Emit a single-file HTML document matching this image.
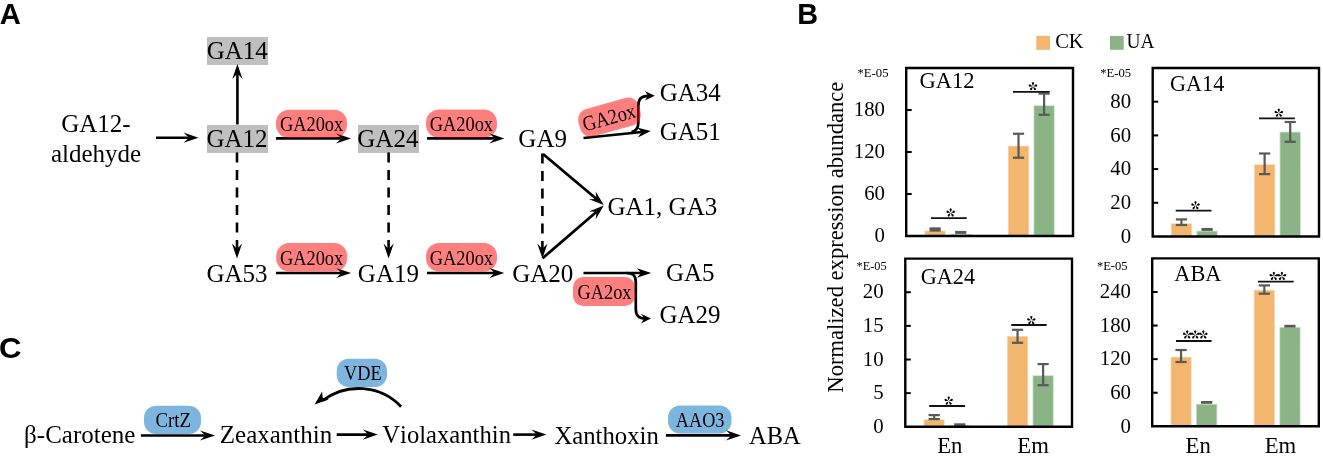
<!DOCTYPE html>
<html><head><meta charset="utf-8"><style>
html,body{margin:0;padding:0;background:#fff;width:1323px;height:460px;overflow:hidden}
svg{display:block;will-change:transform}
text{font-kerning:none}
</style></head><body>
<svg width="1323" height="460" viewBox="0 0 1323 460">
<rect width="1323" height="460" fill="#fff"/>
<text transform="translate(-0.23,23.90) scale(0.9738,1)" style="font-family:'Liberation Sans', sans-serif;font-weight:bold;font-size:30px" fill="#000" >A</text>
<rect x="207" y="37" width="61" height="28" rx="0" fill="#bfbfbf" />
<rect x="207" y="125" width="61" height="28" rx="0" fill="#bfbfbf" />
<rect x="358" y="125" width="61" height="28" rx="0" fill="#bfbfbf" />
<line x1="156" y1="137.7" x2="189.0" y2="137.7" stroke="#000" stroke-width="2.6" stroke-linecap="butt"/>
<polygon points="198.50,137.70 183.50,132.60 189.00,137.70 183.50,142.80" fill="#000"/>
<line x1="237.4" y1="124.5" x2="237.4" y2="73.5" stroke="#000" stroke-width="2.6" stroke-linecap="butt"/>
<polygon points="237.40,64.00 232.30,79.00 237.40,73.50 242.50,79.00" fill="#000"/>
<line x1="276" y1="138.4" x2="341.4" y2="138.4" stroke="#000" stroke-width="2.6" stroke-linecap="butt"/>
<polygon points="350.90,138.40 335.90,133.30 341.40,138.40 335.90,143.50" fill="#000"/>
<line x1="427" y1="138.4" x2="494.8" y2="138.4" stroke="#000" stroke-width="2.6" stroke-linecap="butt"/>
<polygon points="504.30,138.40 489.30,133.30 494.80,138.40 489.30,143.50" fill="#000"/>
<line x1="237" y1="152.5" x2="237" y2="250" stroke="#000" stroke-width="2.6" stroke-linecap="butt" stroke-dasharray="10 7.5"/>
<polygon points="237.00,258.60 242.10,243.60 237.00,249.10 231.90,243.60" fill="#000"/>
<line x1="388.6" y1="152.5" x2="388.6" y2="250" stroke="#000" stroke-width="2.6" stroke-linecap="butt" stroke-dasharray="10 7.5"/>
<polygon points="388.60,258.60 393.70,243.60 388.60,249.10 383.50,243.60" fill="#000"/>
<line x1="542.4" y1="153.5" x2="542.4" y2="250" stroke="#000" stroke-width="2.6" stroke-linecap="butt" stroke-dasharray="10 7.5"/>
<polygon points="542.40,258.50 547.50,243.50 542.40,249.00 537.30,243.50" fill="#000"/>
<line x1="543" y1="154" x2="596.527453514357" y2="198.98771175302053" stroke="#000" stroke-width="2.8" stroke-linecap="butt"/>
<polygon points="603.80,205.10 595.60,191.54 596.53,198.99 589.04,199.35" fill="#000"/>
<line x1="542.6" y1="258.2" x2="596.595378621429" y2="211.79220726328163" stroke="#000" stroke-width="2.8" stroke-linecap="butt"/>
<polygon points="603.80,205.60 589.10,211.51 596.60,211.79 595.75,219.24" fill="#000"/>
<line x1="276" y1="273" x2="341.6" y2="273.0" stroke="#000" stroke-width="2.6" stroke-linecap="butt"/>
<polygon points="351.10,273.00 336.10,267.90 341.60,273.00 336.10,278.10" fill="#000"/>
<line x1="427" y1="273" x2="494.8" y2="273.0" stroke="#000" stroke-width="2.6" stroke-linecap="butt"/>
<polygon points="504.30,273.00 489.30,267.90 494.80,273.00 489.30,278.10" fill="#000"/>
<line x1="583.5" y1="138.0" x2="641.8469324375998" y2="132.01792223150906" stroke="#000" stroke-width="2.6" stroke-linecap="butt"/>
<polygon points="650.80,131.10 636.86,127.50 641.85,132.02 637.88,137.45" fill="#000"/>
<path d="M631.5,132 C635.5,131 638.3,129 638.3,123 L638.3,106 C638.3,99.5 640.5,96 649,95.8" fill="none" stroke="#000" stroke-width="2.7"/>
<polygon points="654.80,95.80 644.80,91.10 648.30,95.80 644.80,100.50" fill="#000"/>
<line x1="583.5" y1="273" x2="641.2" y2="273.0" stroke="#000" stroke-width="2.6" stroke-linecap="butt"/>
<polygon points="651.20,273.00 636.90,268.20 641.20,273.00 636.90,277.80" fill="#000"/>
<path d="M626.5,273 C633,273 635.8,275.5 635.8,282 L635.8,309 C635.8,315.5 638.5,318.6 645.5,318.6" fill="none" stroke="#000" stroke-width="2.7"/>
<polygon points="650.90,318.60 640.90,313.70 644.40,318.60 640.90,323.50" fill="#000"/>
<rect x="276" y="109.8" width="71" height="28.2" rx="13" fill="rgba(255,0,0,0.5)" />
<rect x="426" y="109.5" width="71" height="28.2" rx="13" fill="rgba(255,0,0,0.5)" />
<rect x="276.2" y="243" width="71" height="28.6" rx="13" fill="rgba(255,0,0,0.5)" />
<rect x="426" y="243" width="71" height="28.6" rx="13" fill="rgba(255,0,0,0.5)" />
<rect x="573" y="277" width="62" height="29" rx="10" fill="rgba(255,0,0,0.5)" />
<g transform="rotate(-15.5 608.5 116.5)">
<rect x="578" y="103.2" width="62.6" height="28.4" rx="11" fill="rgba(255,0,0,0.5)" />
<text transform="translate(581.54,124.60) scale(0.8696,1)" style="font-family:'Liberation Serif', serif;font-size:21.2px" fill="#000" >GA2ox</text>
</g>
<text transform="translate(206.67,58.70)" style="font-family:'Liberation Serif', serif;font-size:25px" fill="#000" >GA14</text>
<text transform="translate(206.47,146.90)" style="font-family:'Liberation Serif', serif;font-size:25px" fill="#000" >GA12</text>
<text transform="translate(357.27,147.00)" style="font-family:'Liberation Serif', serif;font-size:25px" fill="#000" >GA24</text>
<text transform="translate(518.37,146.70)" style="font-family:'Liberation Serif', serif;font-size:25px" fill="#000" >GA9</text>
<text transform="translate(659.67,101.30)" style="font-family:'Liberation Serif', serif;font-size:25px" fill="#000" >GA34</text>
<text transform="translate(659.67,139.90)" style="font-family:'Liberation Serif', serif;font-size:25px" fill="#000" >GA51</text>
<text transform="translate(607.47,214.80)" style="font-family:'Liberation Serif', serif;font-size:25px" fill="#000" >GA1, GA3</text>
<text transform="translate(206.47,281.60)" style="font-family:'Liberation Serif', serif;font-size:25px" fill="#000" >GA53</text>
<text transform="translate(357.87,281.50)" style="font-family:'Liberation Serif', serif;font-size:25px" fill="#000" >GA19</text>
<text transform="translate(512.17,281.60)" style="font-family:'Liberation Serif', serif;font-size:25px" fill="#000" >GA20</text>
<text transform="translate(665.97,281.40)" style="font-family:'Liberation Serif', serif;font-size:25px" fill="#000" >GA5</text>
<text transform="translate(659.47,323.20)" style="font-family:'Liberation Serif', serif;font-size:25px" fill="#000" >GA29</text>
<text transform="translate(61.17,132.10)" style="font-family:'Liberation Serif', serif;font-size:25px" fill="#000" >GA12-</text>
<text transform="translate(50.92,161.60)" style="font-family:'Liberation Serif', serif;font-size:25px" fill="#000" >aldehyde</text>
<text transform="translate(279.95,131.20) scale(0.9186,1)" style="font-family:'Liberation Serif', serif;font-size:20px" fill="#000" >GA20ox</text>
<text transform="translate(429.64,130.80) scale(0.9215,1)" style="font-family:'Liberation Serif', serif;font-size:20px" fill="#000" >GA20ox</text>
<text transform="translate(279.95,265.00) scale(0.9186,1)" style="font-family:'Liberation Serif', serif;font-size:20px" fill="#000" >GA20ox</text>
<text transform="translate(429.64,265.00) scale(0.9215,1)" style="font-family:'Liberation Serif', serif;font-size:20px" fill="#000" >GA20ox</text>
<text transform="translate(577.55,298.50) scale(0.9166,1)" style="font-family:'Liberation Serif', serif;font-size:20px" fill="#000" >GA2ox</text>
<text transform="translate(-1.08,358.00) scale(1.0401,1)" style="font-family:'Liberation Sans', sans-serif;font-weight:bold;font-size:30px" fill="#000" >C</text>
<rect x="144" y="405.7" width="57" height="28.2" rx="12" fill="#7eb5df" />
<rect x="336.7" y="358.7" width="50.3" height="28.3" rx="12" fill="#7eb5df" />
<rect x="668" y="405.4" width="63.5" height="28.1" rx="12" fill="#7eb5df" />
<line x1="140.9" y1="435.5" x2="205.5" y2="435.5" stroke="#000" stroke-width="2.6" stroke-linecap="butt"/>
<polygon points="215.00,435.50 200.00,430.40 205.50,435.50 200.00,440.60" fill="#000"/>
<line x1="336.7" y1="434.6" x2="368.3" y2="434.6" stroke="#000" stroke-width="2.6" stroke-linecap="butt"/>
<polygon points="377.80,434.60 362.80,429.50 368.30,434.60 362.80,439.70" fill="#000"/>
<line x1="513.2" y1="434.6" x2="536.9" y2="434.6" stroke="#000" stroke-width="2.6" stroke-linecap="butt"/>
<polygon points="546.40,434.60 531.40,429.50 536.90,434.60 531.40,439.70" fill="#000"/>
<line x1="665.9" y1="435.4" x2="731.5" y2="435.4" stroke="#000" stroke-width="2.6" stroke-linecap="butt"/>
<polygon points="741.00,435.40 726.00,430.30 731.50,435.40 726.00,440.50" fill="#000"/>
<path d="M401.1,406.7 A59,59 0 0,0 323,400.4" fill="none" stroke="#000" stroke-width="2.8"/>
<polygon points="314.60,404.60 328.82,399.46 322.64,397.85 322.14,391.49" fill="#000"/>
<text transform="translate(155.43,427.00) scale(0.9426,1)" style="font-family:'Liberation Serif', serif;font-size:20px" fill="#000" >CrtZ</text>
<text transform="translate(343.99,379.70) scale(0.9177,1)" style="font-family:'Liberation Serif', serif;font-size:20px" fill="#000" >VDE</text>
<text transform="translate(675.82,427.00) scale(0.9111,1)" style="font-family:'Liberation Serif', serif;font-size:20px" fill="#000" >AAO3</text>
<text transform="translate(24.09,443.30)" style="font-family:'Liberation Serif', serif;font-size:25px" fill="#000" >β-Carotene</text>
<text transform="translate(219.80,443.20)" style="font-family:'Liberation Serif', serif;font-size:25px" fill="#000" >Zeaxanthin</text>
<text transform="translate(382.22,443.30) scale(0.9864,1)" style="font-family:'Liberation Serif', serif;font-size:25px" fill="#000" >Violaxanthin</text>
<text transform="translate(554.46,443.50) scale(0.9884,1)" style="font-family:'Liberation Serif', serif;font-size:25px" fill="#000" >Xanthoxin</text>
<text transform="translate(749.06,443.50) scale(0.9798,1)" style="font-family:'Liberation Serif', serif;font-size:25px" fill="#000" >ABA</text>
<text transform="translate(797.17,23.80) scale(0.9620,1)" style="font-family:'Liberation Sans', sans-serif;font-weight:bold;font-size:30px" fill="#000" >B</text>
<rect x="1036.3" y="35.9" width="13.7" height="13.9" rx="0" fill="#f2b66e" />
<rect x="1110" y="35.9" width="13.7" height="13.9" rx="0" fill="#8ab486" />
<text transform="translate(1055.16,48.00) scale(1.0027,1)" style="font-family:'Liberation Serif', serif;font-size:20.5px" fill="#000" >CK</text>
<text transform="translate(1126.59,48.00) scale(0.9474,1)" style="font-family:'Liberation Serif', serif;font-size:20.5px" fill="#000" >UA</text>
<g transform="translate(843.3,392) rotate(-90)">
<text transform="translate(-0.65,0.00) scale(0.9825,1)" style="font-family:'Liberation Serif', serif;font-size:23px" fill="#000" >Normalized expression abundance</text>
</g>
<rect x="925.35" y="231.3" width="19.5" height="4.7" rx="0" fill="#f2b66e" stroke="#f2b66e" stroke-opacity="0.5" stroke-width="1.6"/>
<rect x="950.95" y="234.8" width="19.5" height="1.2" rx="0" fill="#8ab486" stroke="#8ab486" stroke-opacity="0.5" stroke-width="1.6"/>
<rect x="1008.75" y="146.5" width="19.5" height="89.5" rx="0" fill="#f2b66e" stroke="#f2b66e" stroke-opacity="0.5" stroke-width="1.6"/>
<rect x="1034.35" y="106.10000000000001" width="19.5" height="129.9" rx="0" fill="#8ab486" stroke="#8ab486" stroke-opacity="0.5" stroke-width="1.6"/>
<rect x="929.5" y="227.35" width="11.2" height="4.3" rx="0" fill="#595959" />
<rect x="955.1" y="230.9" width="11.2" height="3.0" rx="0" fill="#595959" />
<line x1="1018.5" y1="133.75" x2="1018.5" y2="157.75" stroke="#595959" stroke-width="2.2" stroke-linecap="butt"/>
<line x1="1012.9" y1="133.75" x2="1024.1" y2="133.75" stroke="#595959" stroke-width="2.2" stroke-linecap="butt"/>
<line x1="1012.9" y1="157.75" x2="1024.1" y2="157.75" stroke="#595959" stroke-width="2.2" stroke-linecap="butt"/>
<line x1="1044.1" y1="93.60000000000001" x2="1044.1" y2="114.8" stroke="#595959" stroke-width="2.2" stroke-linecap="butt"/>
<line x1="1038.5" y1="93.60000000000001" x2="1049.6999999999998" y2="93.60000000000001" stroke="#595959" stroke-width="2.2" stroke-linecap="butt"/>
<line x1="1038.5" y1="114.8" x2="1049.6999999999998" y2="114.8" stroke="#595959" stroke-width="2.2" stroke-linecap="butt"/>
<line x1="931" y1="218.2" x2="966.7" y2="218.2" stroke="#111" stroke-width="1.8" stroke-linecap="butt"/>
<g transform="translate(950.70,212.80) scale(1.08)" fill="#000"><path transform="rotate(0)" d="M0,-0.3 L-0.8,-2.35 A1.04,1.04 0 1,1 0.8,-2.35 Z"/><path transform="rotate(72)" d="M0,-0.3 L-0.8,-2.35 A1.04,1.04 0 1,1 0.8,-2.35 Z"/><path transform="rotate(144)" d="M0,-0.3 L-0.8,-2.35 A1.04,1.04 0 1,1 0.8,-2.35 Z"/><path transform="rotate(216)" d="M0,-0.3 L-0.8,-2.35 A1.04,1.04 0 1,1 0.8,-2.35 Z"/><path transform="rotate(288)" d="M0,-0.3 L-0.8,-2.35 A1.04,1.04 0 1,1 0.8,-2.35 Z"/></g>
<line x1="1013" y1="91.8" x2="1049.6" y2="91.8" stroke="#111" stroke-width="1.8" stroke-linecap="butt"/>
<g transform="translate(1033.00,86.50) scale(1.08)" fill="#000"><path transform="rotate(0)" d="M0,-0.3 L-0.8,-2.35 A1.04,1.04 0 1,1 0.8,-2.35 Z"/><path transform="rotate(72)" d="M0,-0.3 L-0.8,-2.35 A1.04,1.04 0 1,1 0.8,-2.35 Z"/><path transform="rotate(144)" d="M0,-0.3 L-0.8,-2.35 A1.04,1.04 0 1,1 0.8,-2.35 Z"/><path transform="rotate(216)" d="M0,-0.3 L-0.8,-2.35 A1.04,1.04 0 1,1 0.8,-2.35 Z"/><path transform="rotate(288)" d="M0,-0.3 L-0.8,-2.35 A1.04,1.04 0 1,1 0.8,-2.35 Z"/></g>
<path d="M906.2,236 L906.2,68 L1073,68 L1073,236 Z" fill="none" stroke="#000" stroke-width="2.4"/>
<text transform="translate(874.59,242.20)" style="font-family:'Liberation Serif', serif;font-size:20.8px" fill="#000" >0</text>
<line x1="906.2" y1="194.0" x2="911.7" y2="194.0" stroke="#000" stroke-width="2.0" stroke-linecap="butt"/>
<text transform="translate(864.19,200.20)" style="font-family:'Liberation Serif', serif;font-size:20.8px" fill="#000" >60</text>
<line x1="906.2" y1="152.0" x2="911.7" y2="152.0" stroke="#000" stroke-width="2.0" stroke-linecap="butt"/>
<text transform="translate(853.79,158.20)" style="font-family:'Liberation Serif', serif;font-size:20.8px" fill="#000" >120</text>
<line x1="906.2" y1="110.0" x2="911.7" y2="110.0" stroke="#000" stroke-width="2.0" stroke-linecap="butt"/>
<text transform="translate(853.79,116.20)" style="font-family:'Liberation Serif', serif;font-size:20.8px" fill="#000" >180</text>
<text transform="translate(857.48,77.00) scale(0.9795,1)" style="font-family:'Liberation Serif', serif;font-size:13px" fill="#000" >*E-05</text>
<text transform="translate(919.38,87.80) scale(0.9795,1)" style="font-family:'Liberation Serif', serif;font-size:23px" fill="#000" >GA12</text>
<rect x="1171.73" y="224.0" width="19.5" height="12.5" rx="0" fill="#f2b66e" stroke="#f2b66e" stroke-opacity="0.5" stroke-width="1.6"/>
<rect x="1197.33" y="231.6" width="19.5" height="4.9" rx="0" fill="#8ab486" stroke="#8ab486" stroke-opacity="0.5" stroke-width="1.6"/>
<rect x="1254.88" y="165.0" width="19.5" height="71.5" rx="0" fill="#f2b66e" stroke="#f2b66e" stroke-opacity="0.5" stroke-width="1.6"/>
<rect x="1280.47" y="132.6" width="19.5" height="103.9" rx="0" fill="#8ab486" stroke="#8ab486" stroke-opacity="0.5" stroke-width="1.6"/>
<line x1="1181.4750000000001" y1="219.39999999999998" x2="1181.4750000000001" y2="225.0" stroke="#595959" stroke-width="2.2" stroke-linecap="butt"/>
<line x1="1175.8750000000002" y1="219.39999999999998" x2="1187.075" y2="219.39999999999998" stroke="#595959" stroke-width="2.2" stroke-linecap="butt"/>
<line x1="1175.8750000000002" y1="225.0" x2="1187.075" y2="225.0" stroke="#595959" stroke-width="2.2" stroke-linecap="butt"/>
<rect x="1201.48" y="227.95" width="11.2" height="2.9" rx="0" fill="#595959" />
<line x1="1264.625" y1="153.5" x2="1264.625" y2="174.10000000000002" stroke="#595959" stroke-width="2.2" stroke-linecap="butt"/>
<line x1="1259.025" y1="153.5" x2="1270.225" y2="153.5" stroke="#595959" stroke-width="2.2" stroke-linecap="butt"/>
<line x1="1259.025" y1="174.10000000000002" x2="1270.225" y2="174.10000000000002" stroke="#595959" stroke-width="2.2" stroke-linecap="butt"/>
<line x1="1290.225" y1="122.0" x2="1290.225" y2="141.8" stroke="#595959" stroke-width="2.2" stroke-linecap="butt"/>
<line x1="1284.625" y1="122.0" x2="1295.8249999999998" y2="122.0" stroke="#595959" stroke-width="2.2" stroke-linecap="butt"/>
<line x1="1284.625" y1="141.8" x2="1295.8249999999998" y2="141.8" stroke="#595959" stroke-width="2.2" stroke-linecap="butt"/>
<line x1="1175.7" y1="210.7" x2="1211.5" y2="210.7" stroke="#111" stroke-width="1.8" stroke-linecap="butt"/>
<g transform="translate(1195.50,205.50) scale(1.08)" fill="#000"><path transform="rotate(0)" d="M0,-0.3 L-0.8,-2.35 A1.04,1.04 0 1,1 0.8,-2.35 Z"/><path transform="rotate(72)" d="M0,-0.3 L-0.8,-2.35 A1.04,1.04 0 1,1 0.8,-2.35 Z"/><path transform="rotate(144)" d="M0,-0.3 L-0.8,-2.35 A1.04,1.04 0 1,1 0.8,-2.35 Z"/><path transform="rotate(216)" d="M0,-0.3 L-0.8,-2.35 A1.04,1.04 0 1,1 0.8,-2.35 Z"/><path transform="rotate(288)" d="M0,-0.3 L-0.8,-2.35 A1.04,1.04 0 1,1 0.8,-2.35 Z"/></g>
<line x1="1259" y1="118.4" x2="1294.8" y2="118.4" stroke="#111" stroke-width="1.8" stroke-linecap="butt"/>
<g transform="translate(1278.80,113.00) scale(1.08)" fill="#000"><path transform="rotate(0)" d="M0,-0.3 L-0.8,-2.35 A1.04,1.04 0 1,1 0.8,-2.35 Z"/><path transform="rotate(72)" d="M0,-0.3 L-0.8,-2.35 A1.04,1.04 0 1,1 0.8,-2.35 Z"/><path transform="rotate(144)" d="M0,-0.3 L-0.8,-2.35 A1.04,1.04 0 1,1 0.8,-2.35 Z"/><path transform="rotate(216)" d="M0,-0.3 L-0.8,-2.35 A1.04,1.04 0 1,1 0.8,-2.35 Z"/><path transform="rotate(288)" d="M0,-0.3 L-0.8,-2.35 A1.04,1.04 0 1,1 0.8,-2.35 Z"/></g>
<path d="M1152.7,236.5 L1152.7,68 L1319,68 L1319,236.5 Z" fill="none" stroke="#000" stroke-width="2.4"/>
<text transform="translate(1120.69,242.70)" style="font-family:'Liberation Serif', serif;font-size:20.8px" fill="#000" >0</text>
<line x1="1152.7" y1="202.8" x2="1158.2" y2="202.8" stroke="#000" stroke-width="2.0" stroke-linecap="butt"/>
<text transform="translate(1110.29,209.00)" style="font-family:'Liberation Serif', serif;font-size:20.8px" fill="#000" >20</text>
<line x1="1152.7" y1="169.1" x2="1158.2" y2="169.1" stroke="#000" stroke-width="2.0" stroke-linecap="butt"/>
<text transform="translate(1110.29,175.30)" style="font-family:'Liberation Serif', serif;font-size:20.8px" fill="#000" >40</text>
<line x1="1152.7" y1="135.4" x2="1158.2" y2="135.4" stroke="#000" stroke-width="2.0" stroke-linecap="butt"/>
<text transform="translate(1110.29,141.60)" style="font-family:'Liberation Serif', serif;font-size:20.8px" fill="#000" >60</text>
<line x1="1152.7" y1="101.69999999999999" x2="1158.2" y2="101.69999999999999" stroke="#000" stroke-width="2.0" stroke-linecap="butt"/>
<text transform="translate(1110.29,107.90)" style="font-family:'Liberation Serif', serif;font-size:20.8px" fill="#000" >80</text>
<text transform="translate(1100.28,77.00) scale(0.9730,1)" style="font-family:'Liberation Serif', serif;font-size:13px" fill="#000" >*E-05</text>
<text transform="translate(1170.09,90.90) scale(0.9633,1)" style="font-family:'Liberation Serif', serif;font-size:23px" fill="#000" >GA14</text>
<rect x="924.42" y="420.09999999999997" width="19.5" height="6.7" rx="0" fill="#f2b66e" stroke="#f2b66e" stroke-opacity="0.5" stroke-width="1.6"/>
<rect x="950.02" y="425.9" width="19.5" height="0.9" rx="0" fill="#8ab486" stroke="#8ab486" stroke-opacity="0.5" stroke-width="1.6"/>
<rect x="1007.78" y="336.9" width="19.5" height="89.9" rx="0" fill="#f2b66e" stroke="#f2b66e" stroke-opacity="0.5" stroke-width="1.6"/>
<rect x="1033.38" y="376.09999999999997" width="19.5" height="50.7" rx="0" fill="#8ab486" stroke="#8ab486" stroke-opacity="0.5" stroke-width="1.6"/>
<line x1="934.175" y1="415.1" x2="934.175" y2="419.1" stroke="#595959" stroke-width="2.2" stroke-linecap="butt"/>
<line x1="928.5749999999999" y1="415.1" x2="939.775" y2="415.1" stroke="#595959" stroke-width="2.2" stroke-linecap="butt"/>
<line x1="928.5749999999999" y1="419.1" x2="939.775" y2="419.1" stroke="#595959" stroke-width="2.2" stroke-linecap="butt"/>
<rect x="954.17" y="423.3" width="11.2" height="3.2" rx="0" fill="#595959" />
<line x1="1017.5250000000001" y1="329.8" x2="1017.5250000000001" y2="342.8" stroke="#595959" stroke-width="2.2" stroke-linecap="butt"/>
<line x1="1011.9250000000001" y1="329.8" x2="1023.1250000000001" y2="329.8" stroke="#595959" stroke-width="2.2" stroke-linecap="butt"/>
<line x1="1011.9250000000001" y1="342.8" x2="1023.1250000000001" y2="342.8" stroke="#595959" stroke-width="2.2" stroke-linecap="butt"/>
<line x1="1043.125" y1="364.09999999999997" x2="1043.125" y2="385.2" stroke="#595959" stroke-width="2.2" stroke-linecap="butt"/>
<line x1="1037.525" y1="364.09999999999997" x2="1048.725" y2="364.09999999999997" stroke="#595959" stroke-width="2.2" stroke-linecap="butt"/>
<line x1="1037.525" y1="385.2" x2="1048.725" y2="385.2" stroke="#595959" stroke-width="2.2" stroke-linecap="butt"/>
<line x1="929.2" y1="406" x2="965.1" y2="406" stroke="#111" stroke-width="1.8" stroke-linecap="butt"/>
<g transform="translate(948.70,400.90) scale(1.08)" fill="#000"><path transform="rotate(0)" d="M0,-0.3 L-0.8,-2.35 A1.04,1.04 0 1,1 0.8,-2.35 Z"/><path transform="rotate(72)" d="M0,-0.3 L-0.8,-2.35 A1.04,1.04 0 1,1 0.8,-2.35 Z"/><path transform="rotate(144)" d="M0,-0.3 L-0.8,-2.35 A1.04,1.04 0 1,1 0.8,-2.35 Z"/><path transform="rotate(216)" d="M0,-0.3 L-0.8,-2.35 A1.04,1.04 0 1,1 0.8,-2.35 Z"/><path transform="rotate(288)" d="M0,-0.3 L-0.8,-2.35 A1.04,1.04 0 1,1 0.8,-2.35 Z"/></g>
<line x1="1011.3" y1="325" x2="1046.7" y2="325" stroke="#111" stroke-width="1.8" stroke-linecap="butt"/>
<g transform="translate(1031.30,320.40) scale(1.08)" fill="#000"><path transform="rotate(0)" d="M0,-0.3 L-0.8,-2.35 A1.04,1.04 0 1,1 0.8,-2.35 Z"/><path transform="rotate(72)" d="M0,-0.3 L-0.8,-2.35 A1.04,1.04 0 1,1 0.8,-2.35 Z"/><path transform="rotate(144)" d="M0,-0.3 L-0.8,-2.35 A1.04,1.04 0 1,1 0.8,-2.35 Z"/><path transform="rotate(216)" d="M0,-0.3 L-0.8,-2.35 A1.04,1.04 0 1,1 0.8,-2.35 Z"/><path transform="rotate(288)" d="M0,-0.3 L-0.8,-2.35 A1.04,1.04 0 1,1 0.8,-2.35 Z"/></g>
<path d="M905.3,426.8 L905.3,258.6 L1072,258.6 L1072,426.8 Z" fill="none" stroke="#000" stroke-width="2.4"/>
<text transform="translate(873.19,433.00)" style="font-family:'Liberation Serif', serif;font-size:20.8px" fill="#000" >0</text>
<line x1="905.3" y1="393.16" x2="910.8" y2="393.16" stroke="#000" stroke-width="2.0" stroke-linecap="butt"/>
<text transform="translate(873.21,399.36)" style="font-family:'Liberation Serif', serif;font-size:20.8px" fill="#000" >5</text>
<line x1="905.3" y1="359.52" x2="910.8" y2="359.52" stroke="#000" stroke-width="2.0" stroke-linecap="butt"/>
<text transform="translate(862.79,365.72)" style="font-family:'Liberation Serif', serif;font-size:20.8px" fill="#000" >10</text>
<line x1="905.3" y1="325.88" x2="910.8" y2="325.88" stroke="#000" stroke-width="2.0" stroke-linecap="butt"/>
<text transform="translate(862.81,332.08)" style="font-family:'Liberation Serif', serif;font-size:20.8px" fill="#000" >15</text>
<line x1="905.3" y1="292.24" x2="910.8" y2="292.24" stroke="#000" stroke-width="2.0" stroke-linecap="butt"/>
<text transform="translate(862.79,298.44)" style="font-family:'Liberation Serif', serif;font-size:20.8px" fill="#000" >20</text>
<text transform="translate(856.50,269.90) scale(0.9501,1)" style="font-family:'Liberation Serif', serif;font-size:13px" fill="#000" >*E-05</text>
<text transform="translate(920.69,284.10) scale(0.9669,1)" style="font-family:'Liberation Serif', serif;font-size:23px" fill="#000" >GA24</text>
<text transform="translate(937.25,452.80)" style="font-family:'Liberation Serif', serif;font-size:22.7px" fill="#000" >En</text>
<text transform="translate(1017.35,452.80)" style="font-family:'Liberation Serif', serif;font-size:22.7px" fill="#000" >Em</text>
<rect x="1171.3" y="357.59999999999997" width="19.5" height="68.7" rx="0" fill="#f2b66e" stroke="#f2b66e" stroke-opacity="0.5" stroke-width="1.6"/>
<rect x="1196.9" y="404.79999999999995" width="19.5" height="21.5" rx="0" fill="#8ab486" stroke="#8ab486" stroke-opacity="0.5" stroke-width="1.6"/>
<rect x="1254.6" y="290.7" width="19.5" height="135.6" rx="0" fill="#f2b66e" stroke="#f2b66e" stroke-opacity="0.5" stroke-width="1.6"/>
<rect x="1280.2" y="327.9" width="19.5" height="98.4" rx="0" fill="#8ab486" stroke="#8ab486" stroke-opacity="0.5" stroke-width="1.6"/>
<line x1="1181.05" y1="350" x2="1181.05" y2="362" stroke="#595959" stroke-width="2.2" stroke-linecap="butt"/>
<line x1="1175.45" y1="350" x2="1186.6499999999999" y2="350" stroke="#595959" stroke-width="2.2" stroke-linecap="butt"/>
<line x1="1175.45" y1="362" x2="1186.6499999999999" y2="362" stroke="#595959" stroke-width="2.2" stroke-linecap="butt"/>
<rect x="1201.05" y="401.0" width="11.2" height="2.8" rx="0" fill="#595959" />
<line x1="1264.3500000000001" y1="285.40000000000003" x2="1264.3500000000001" y2="293.7" stroke="#595959" stroke-width="2.2" stroke-linecap="butt"/>
<line x1="1258.7500000000002" y1="285.40000000000003" x2="1269.95" y2="285.40000000000003" stroke="#595959" stroke-width="2.2" stroke-linecap="butt"/>
<line x1="1258.7500000000002" y1="293.7" x2="1269.95" y2="293.7" stroke="#595959" stroke-width="2.2" stroke-linecap="butt"/>
<rect x="1284.35" y="324.8" width="11.2" height="2.8" rx="0" fill="#595959" />
<line x1="1176" y1="341" x2="1211.6" y2="341" stroke="#111" stroke-width="1.8" stroke-linecap="butt"/>
<g transform="translate(1187.20,334.80) scale(1.08)" fill="#000"><path transform="rotate(0)" d="M0,-0.3 L-0.8,-2.35 A1.04,1.04 0 1,1 0.8,-2.35 Z"/><path transform="rotate(72)" d="M0,-0.3 L-0.8,-2.35 A1.04,1.04 0 1,1 0.8,-2.35 Z"/><path transform="rotate(144)" d="M0,-0.3 L-0.8,-2.35 A1.04,1.04 0 1,1 0.8,-2.35 Z"/><path transform="rotate(216)" d="M0,-0.3 L-0.8,-2.35 A1.04,1.04 0 1,1 0.8,-2.35 Z"/><path transform="rotate(288)" d="M0,-0.3 L-0.8,-2.35 A1.04,1.04 0 1,1 0.8,-2.35 Z"/></g>
<g transform="translate(1195.20,334.80) scale(1.08)" fill="#000"><path transform="rotate(0)" d="M0,-0.3 L-0.8,-2.35 A1.04,1.04 0 1,1 0.8,-2.35 Z"/><path transform="rotate(72)" d="M0,-0.3 L-0.8,-2.35 A1.04,1.04 0 1,1 0.8,-2.35 Z"/><path transform="rotate(144)" d="M0,-0.3 L-0.8,-2.35 A1.04,1.04 0 1,1 0.8,-2.35 Z"/><path transform="rotate(216)" d="M0,-0.3 L-0.8,-2.35 A1.04,1.04 0 1,1 0.8,-2.35 Z"/><path transform="rotate(288)" d="M0,-0.3 L-0.8,-2.35 A1.04,1.04 0 1,1 0.8,-2.35 Z"/></g>
<g transform="translate(1203.30,334.80) scale(1.08)" fill="#000"><path transform="rotate(0)" d="M0,-0.3 L-0.8,-2.35 A1.04,1.04 0 1,1 0.8,-2.35 Z"/><path transform="rotate(72)" d="M0,-0.3 L-0.8,-2.35 A1.04,1.04 0 1,1 0.8,-2.35 Z"/><path transform="rotate(144)" d="M0,-0.3 L-0.8,-2.35 A1.04,1.04 0 1,1 0.8,-2.35 Z"/><path transform="rotate(216)" d="M0,-0.3 L-0.8,-2.35 A1.04,1.04 0 1,1 0.8,-2.35 Z"/><path transform="rotate(288)" d="M0,-0.3 L-0.8,-2.35 A1.04,1.04 0 1,1 0.8,-2.35 Z"/></g>
<line x1="1258" y1="281.7" x2="1293.7" y2="281.7" stroke="#111" stroke-width="1.8" stroke-linecap="butt"/>
<g transform="translate(1273.80,276.20) scale(1.08)" fill="#000"><path transform="rotate(0)" d="M0,-0.3 L-0.8,-2.35 A1.04,1.04 0 1,1 0.8,-2.35 Z"/><path transform="rotate(72)" d="M0,-0.3 L-0.8,-2.35 A1.04,1.04 0 1,1 0.8,-2.35 Z"/><path transform="rotate(144)" d="M0,-0.3 L-0.8,-2.35 A1.04,1.04 0 1,1 0.8,-2.35 Z"/><path transform="rotate(216)" d="M0,-0.3 L-0.8,-2.35 A1.04,1.04 0 1,1 0.8,-2.35 Z"/><path transform="rotate(288)" d="M0,-0.3 L-0.8,-2.35 A1.04,1.04 0 1,1 0.8,-2.35 Z"/></g>
<g transform="translate(1281.90,276.20) scale(1.08)" fill="#000"><path transform="rotate(0)" d="M0,-0.3 L-0.8,-2.35 A1.04,1.04 0 1,1 0.8,-2.35 Z"/><path transform="rotate(72)" d="M0,-0.3 L-0.8,-2.35 A1.04,1.04 0 1,1 0.8,-2.35 Z"/><path transform="rotate(144)" d="M0,-0.3 L-0.8,-2.35 A1.04,1.04 0 1,1 0.8,-2.35 Z"/><path transform="rotate(216)" d="M0,-0.3 L-0.8,-2.35 A1.04,1.04 0 1,1 0.8,-2.35 Z"/><path transform="rotate(288)" d="M0,-0.3 L-0.8,-2.35 A1.04,1.04 0 1,1 0.8,-2.35 Z"/></g>
<path d="M1152.2,426.3 L1152.2,258.4 L1318.8,258.4 L1318.8,426.3 Z" fill="none" stroke="#000" stroke-width="2.4"/>
<text transform="translate(1120.59,432.50)" style="font-family:'Liberation Serif', serif;font-size:20.8px" fill="#000" >0</text>
<line x1="1152.2" y1="392.72" x2="1157.7" y2="392.72" stroke="#000" stroke-width="2.0" stroke-linecap="butt"/>
<text transform="translate(1110.19,398.92)" style="font-family:'Liberation Serif', serif;font-size:20.8px" fill="#000" >60</text>
<line x1="1152.2" y1="359.14" x2="1157.7" y2="359.14" stroke="#000" stroke-width="2.0" stroke-linecap="butt"/>
<text transform="translate(1099.79,365.34)" style="font-family:'Liberation Serif', serif;font-size:20.8px" fill="#000" >120</text>
<line x1="1152.2" y1="325.56" x2="1157.7" y2="325.56" stroke="#000" stroke-width="2.0" stroke-linecap="butt"/>
<text transform="translate(1099.79,331.76)" style="font-family:'Liberation Serif', serif;font-size:20.8px" fill="#000" >180</text>
<line x1="1152.2" y1="291.98" x2="1157.7" y2="291.98" stroke="#000" stroke-width="2.0" stroke-linecap="butt"/>
<text transform="translate(1099.79,298.18)" style="font-family:'Liberation Serif', serif;font-size:20.8px" fill="#000" >240</text>
<text transform="translate(1096.88,270.00) scale(0.9697,1)" style="font-family:'Liberation Serif', serif;font-size:13px" fill="#000" >*E-05</text>
<text transform="translate(1174.28,280.90) scale(0.9695,1)" style="font-family:'Liberation Serif', serif;font-size:23px" fill="#000" >ABA</text>
<text transform="translate(1185.55,452.80)" style="font-family:'Liberation Serif', serif;font-size:22.7px" fill="#000" >En</text>
<text transform="translate(1264.65,452.80)" style="font-family:'Liberation Serif', serif;font-size:22.7px" fill="#000" >Em</text>
</svg>
</body></html>
